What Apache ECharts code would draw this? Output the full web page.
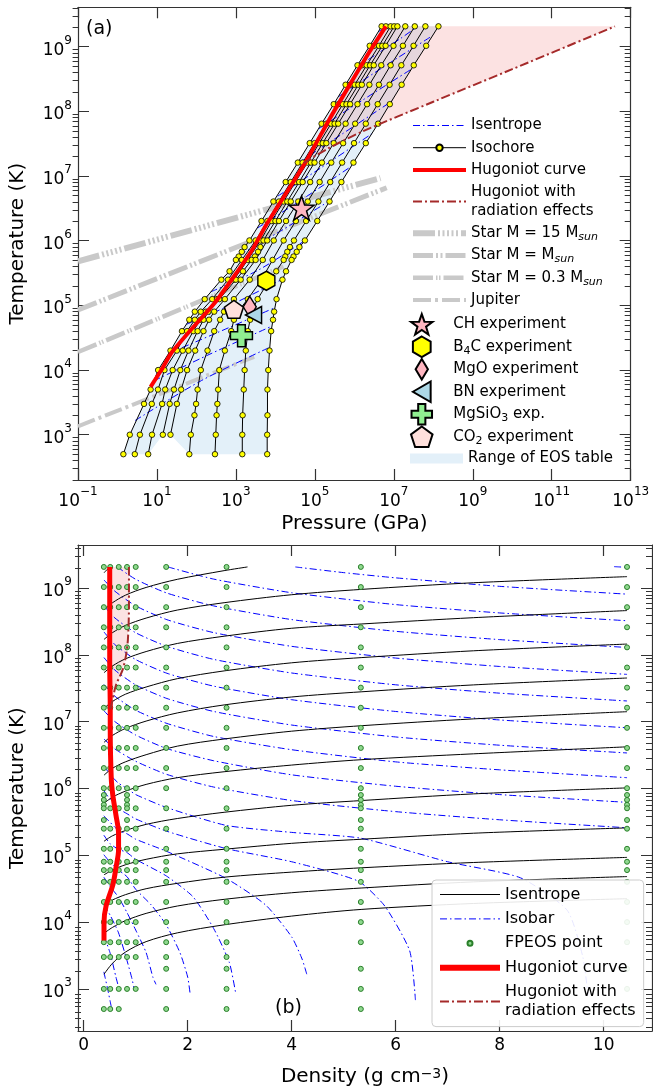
<!DOCTYPE html>
<html><head><meta charset="utf-8">
<script src="https://cdn.jsdelivr.net/npm/echarts@6/dist/echarts.min.js"></script>
<style>html,body{margin:0;padding:0;background:#fff}#c{width:653px;height:1088px}</style>
</head><body><div id="c"></div>
<script>
// ---------------- DATA ----------------
const temps = [2.068e9, 1.034e9, 5.17e8, 2.585e8, 1.293e8, 6.46e7, 3.23e7, 1.616e7, 8.08e6, 4.04e6, 2.02e6, 1.01e6, 7.98e5, 6.74e5, 5.7e5, 5.05e5, 3.37e5, 2.5e5, 1.25e5, 8.0e4, 6.0e4, 4.0e4, 2.0e4, 1.0e4, 5.0e3, 3.0e3, 2.0e3, 1.0e3, 5.0e2];
const densities = [0.387, 0.51, 0.674, 0.833, 1.0, 1.586, 2.747, 5.33, 10.45];
// isochore pressures (GPa) at each temperature of `temps`; null = no FPEOS point
const pRho0387 = [4.9e6, 2.45e6, 1.2e6, 6.0e5, 3.0e5, 1.48e5, 7.4e4, 3.7e4, 1.82e4, 8.9e3, 4.45e3, 2.2e3, 1660, 1410, 1175, 1000, 690, 427, 162, 91, 66, 43, 22, 10.7, 6.9, 4.7, null, 2.05, 1.41];
const pRho051 = [6.3e6, 3.16e6, 1.55e6, 7.8e5, 3.9e5, 1.95e5, 9.8e4, 4.9e4, 2.45e4, 1.23e4, 6.3e3, 3.16e3, null, null, null, 1410, null, 630, 251, 129, 91, 58, 32, 15.5, 10.6, 7.4, null, 3.7, 2.75];
const pRho067 = [8.3e6, 4.2e6, 2.05e6, 1.02e6, 5.1e5, 2.57e5, 1.29e5, 6.5e4, 3.2e4, 1.62e4, 8.1e3, 4.2e3, null, null, null, 2000, null, 890, 331, 174, 126, 83, 45, 25, 16.2, 13.5, null, 7.5, 6.0];
const pRho083 = [1.02e7, 5.1e6, 2.5e6, 1.26e6, 6.3e5, 3.16e5, 1.58e5, 7.9e4, 4.0e4, 2.0e4, 1.0e4, 5.0e3, 4170, 3630, 3020, 2510, 1510, 1000, 380, 200, 151, 107, 63, 39, 27, 21, null, 14.1, null];
const pRho100 = [1.23e7, 6.2e6, 3.1e6, 1.55e6, 7.8e5, 3.9e5, 1.95e5, 9.8e4, 4.9e4, 2.45e4, 1.23e4, 6.2e3, null, null, null, 3160, null, 1320, 525, 282, 209, 151, 93, 58, 41, 32, null, 22, null];
const pRho159 = [1.95e7, 9.8e6, 4.8e6, 2.4e6, 1.2e6, 6.0e5, 3.0e5, 1.51e5, 7.6e4, 3.8e4, 1.86e4, 9.1e3, null, null, null, 4790, null, 2240, 890, 500, 398, 282, 191, 129, 107, 98, 89, 72, 66];
const pRho275 = [3.4e7, 1.7e7, 8.3e6, 4.2e6, 2.1e6, 1.05e6, 5.2e5, 2.6e5, 1.32e5, 6.6e4, 3.3e4, 1.62e4, null, null, null, 8500, null, 4470, 2000, 1120, 890, 760, 525, 380, 355, 339, 324, 309, 295];
const pRho533 = [6.3e7, 3.16e7, 1.55e7, 7.8e6, 3.9e6, 1.95e6, 9.8e5, 4.9e5, 2.45e5, 1.23e5, 6.0e4, 2.95e4, 2.34e4, 2.0e4, 1.78e4, 1.62e4, 1.05e4, 7100, 3550, 2510, 2290, 2000, 1780, 1660, 1580, null, 1480, 1450, 1450];
const pRho1045 = [1.35e8, 6.6e7, 3.2e7, 1.58e7, 7.9e6, 4.0e6, 1.95e6, 9.5e5, 4.7e5, 2.35e5, 1.15e5, 5.6e4, 4.07e4, 3.47e4, 2.88e4, 2.57e4, 1.86e4, 1.51e4, 1.07e4, 9300, 8700, 7800, 7100, 6600, 6300, null, 6300, 6200, 6200];

// Hugoniot, panel (a): pressure (GPa) / temperature (K)
const hugA_P = [6.9, 12.9, 22.9, 72, 282, 890, 2570, 6200, 5.6e4, 2.4e5, 7.6e5, 2.4e6, 6.3e6];
const hugA_T = [5500, 1.0e4, 1.82e4, 4.17e4, 1.07e5, 2.8e5, 7.2e5, 1.86e6, 1.58e7, 7.8e7, 2.57e8, 8.3e8, 2.068e9];
const radA_P = [5.1e4, 2.0e5, 1.62e6, 1.0e8, 1.0e10, 4.0e12];
const radA_T = [1.58e7, 2.6e7, 4.9e7, 1.41e8, 4.5e8, 2.068e9];
// Hugoniot, panel (b): density / temperature
const hugB_rho = [0.39, 0.39, 0.43, 0.56, 0.62, 0.67, 0.67, 0.62, 0.56, 0.53, 0.51, 0.51, 0.50, 0.50];
const hugB_T = [5300, 1.0e4, 1.74e4, 3.6e4, 6.5e4, 1.2e5, 2.14e5, 4.0e5, 7.9e5, 1.4e6, 7.8e6, 1.55e7, 7.6e7, 2.068e9];
const radB_rho = [0.51, 0.53, 0.62, 0.75, 0.81, 0.85, 0.87, 0.87];
const radB_T = [1.55e7, 1.74e7, 3.5e7, 6.0e7, 9.5e7, 1.7e8, 5.4e8, 2.068e9];

// stellar / planetary profiles (GPa, K)
const star15_P = [0.1, 4.6e6];  const star15_T = [4.8e5, 9.3e6];
const star1_P = [0.1, 6.6e6];   const star1_T = [8.5e4, 6.6e6];
const star03_P = [0.1, 1.6e4];  const star03_T = [1.9e4, 4.0e5];
const jup_P = [0.1, 2900];      const jup_T = [1350, 1.6e4];

// experiments (GPa, K)
const expCH = [4.6e4, 3.2e6];
const expB4C = [5.9e3, 2.4e5];
const expMgO = [2.24e3, 9.5e4];
const expBN = [2.8e3, 7.1e4];
const expMgSiO3 = [1.38e3, 3.4e4];
const expCO2 = [890, 8.7e4];

// isentropes, panel (a): [P (GPa), T (K)] pairs
const isenA_1 = [[4.0e6, 1.7e9], [6.8e6, 2.068e9]];
const isenA_2 = [[1.12e6, 4.8e8], [1.5e7, 1.35e9], [4.0e7, 2.068e9]];
const isenA_3 = [[4.0e5, 1.7e8], [5.0e6, 4.7e8], [9.5e7, 1.48e9]];
const isenA_4 = [[1.26e5, 5.4e7], [1.58e6, 1.48e8], [2.95e7, 4.6e8]];
const isenA_5 = [[3.7e4, 1.58e7], [4.7e5, 4.4e7], [9.1e6, 1.45e8]];
const isenA_6 = [[1.15e4, 4.9e6], [1.45e5, 1.35e7], [2.75e6, 4.5e7]];
const isenA_7 = [[3.55e3, 1.58e6], [4.6e4, 4.3e6], [8.3e5, 1.41e7]];
const isenA_8 = [[1230, 6.0e5], [1.45e4, 1.45e6], [2.45e5, 4.2e6]];
const isenA_9 = [[230, 1.62e5], [3800, 3.55e5], [5.75e4, 1.02e6]];
const isenA_10 = [[56, 5.1e4], [830, 1.05e5], [1.55e4, 2.57e5]];
const isenA_11 = [[20, 1.82e4], [340, 3.8e4], [1.0e4, 9.3e4]];
const isenA_12 = [[8.3, 6.8e3], [209, 1.74e4], [8300, 4.8e4]];
const isenA_13 = [[2.8, 1.66e3], [135, 6.9e3], [7100, 2.24e4]];

// isentropes, panel (b): temperatures (K) at densities isenDens
const isenDens = [0.39, 0.55, 0.8, 1.2, 1.8, 2.7, 4.0, 5.35, 7.5, 10.45];
const isenDens_1 = [0.39, 0.45, 0.53];
const isenT_1 = [1.7e9, 1.88e9, 2.068e9];
const isenDens_2 = [0.39, 0.55, 0.8, 1.2, 1.8, 2.7, 3.15];
const isenT_2 = [4.8e8, 6.0e8, 7.8e8, 1.02e9, 1.35e9, 1.82e9, 2.068e9];
const isenT_3 = [1.70e8, 2.14e8, 2.75e8, 3.55e8, 4.68e8, 6.03e8, 7.94e8, 9.55e8, 1.2e9, 1.48e9];
const isenT_4 = [5.4e7, 6.8e7, 8.7e7, 1.12e8, 1.48e8, 1.9e8, 2.5e8, 2.9e8, 3.6e8, 4.6e8];
const isenT_5 = [1.58e7, 2.0e7, 2.57e7, 3.3e7, 4.4e7, 5.75e7, 7.6e7, 9.1e7, 1.15e8, 1.45e8];
const isenT_6 = [4.9e6, 6.2e6, 7.9e6, 1.02e7, 1.35e7, 1.78e7, 2.34e7, 2.8e7, 3.55e7, 4.5e7];
const isenT_7 = [1.58e6, 2.0e6, 2.5e6, 3.2e6, 4.3e6, 5.5e6, 7.2e6, 8.7e6, 1.1e7, 1.41e7];
const isenT_8 = [6.0e5, 7.4e5, 9.1e5, 1.15e6, 1.45e6, 1.78e6, 2.24e6, 2.7e6, 3.3e6, 4.2e6];
const isenT_9 = [1.62e5, 1.95e5, 2.34e5, 2.9e5, 3.55e5, 4.4e5, 5.6e5, 6.6e5, 8.3e5, 1.02e6];
const isenT_10 = [5.1e4, 6.0e4, 7.2e4, 8.7e4, 1.05e5, 1.23e5, 1.51e5, 1.74e5, 2.14e5, 2.57e5];
const isenT_11 = [1.82e4, 2.14e4, 2.57e4, 3.16e4, 3.8e4, 4.7e4, 5.6e4, 6.5e4, 7.8e4, 9.3e4];
const isenT_12 = [6.8e3, 8.3e3, 1.05e4, 1.35e4, 1.74e4, 2.19e4, 2.75e4, 3.24e4, 4.0e4, 4.8e4];
const isenT_13 = [1.66e3, 2.4e3, 3.55e3, 5.1e3, 6.9e3, 9.1e3, 1.23e4, 1.55e4, 1.9e4, 2.24e4];

// isobars, panel (b): [density, T (K)] pairs, highest pressure first
const isobar_1 = [[10.2, 2.09e9], [10.45, 2.04e9]];
const isobar_2 = [[4.07, 2.068e9], [5, 1.7e9], [6, 1.42e9], [8, 1.06e9], [10.45, 8.1e8]];
const isobar_3 = [[1.62, 2.068e9], [2.5, 1.36e9], [4, 8.5e8], [6, 5.65e8], [8, 4.24e8], [10.45, 3.24e8]];
const isobar_4 = [[0.645, 2.068e9], [1, 1.35e9], [1.6, 8.4e8], [2.5, 5.4e8], [4, 3.37e8], [6, 2.25e8], [8, 1.69e8], [10.45, 1.29e8]];
const isobar_5 = [[0.39, 1.32e9], [0.6, 8.95e8], [1, 5.4e8], [1.6, 3.36e8], [2.5, 2.15e8], [4, 1.34e8], [6, 8.95e7], [8, 6.7e7], [10.45, 5.1e7]];
const isobar_6 = [[0.39, 5.4e8], [0.6, 3.56e8], [1, 2.14e8], [1.6, 1.34e8], [2.5, 8.55e7], [4, 5.35e7], [6, 3.56e7], [8, 2.67e7], [10.45, 2.04e7]];
const isobar_7 = [[0.39, 2.2e8], [0.6, 1.42e8], [1, 8.5e7], [1.6, 5.3e7], [2.5, 3.4e7], [4, 2.13e7], [6, 1.42e7], [8, 1.06e7], [10.45, 8.1e6]];
const isobar_8 = [[0.39, 9.1e7], [0.6, 5.9e7], [1, 3.55e7], [1.6, 2.22e7], [2.5, 1.42e7], [4, 8.9e6], [6, 5.9e6], [8, 4.44e6], [10.45, 3.4e6]];
const isobar_9 = [[0.39, 3.6e7], [0.6, 2.4e7], [1, 1.48e7], [1.6, 9.4e6], [2.5, 6.0e6], [4, 3.8e6], [6, 2.5e6], [8, 1.9e6], [10.45, 1.45e6]];
const isobar_10 = [[0.39, 1.45e7], [0.6, 1.0e7], [1, 6.3e6], [1.6, 3.95e6], [2.5, 2.6e6], [4, 1.6e6], [6, 1.08e6], [8, 8.1e5], [10.45, 6.2e5]];
const isobar_11 = [[0.39, 5.5e6], [0.6, 3.9e6], [1, 2.55e6], [1.6, 1.62e6], [2.5, 1.05e6], [4, 6.6e5], [6, 4.5e5], [8, 3.4e5], [10.45, 2.58e5]];
const isobar_12 = [[0.387, 2.2e6], [0.51, 1.6e6], [0.67, 1.2e6], [0.83, 1.0e6], [1.0, 8.1e5], [1.59, 5.2e5], [2.74, 2.8e5], [4.0, 2.2e5], [5.33, 1.8e5], [7.0, 8e4], [8.4, 4.6e4], [9.3, 1.5e4], [9.6, 3e3], [9.7, 800]];
const isobar_13 = [[0.387, 9.3e5], [0.51, 6.8e5], [0.67, 5.0e5], [0.83, 4.2e5], [1.0, 3.5e5], [1.59, 2.3e5], [2.74, 1.26e5], [4.0, 8e4], [5.28, 4.1e4], [5.79, 1.74e4], [6.27, 3.7e3], [6.38, 680]];
const isobar_14 = [[0.387, 3.9e5], [0.51, 3.1e5], [0.67, 2.35e5], [0.83, 2.1e5], [1.0, 1.74e5], [1.59, 1.15e5], [2.74, 4.5e4], [3.5, 1.8e4], [4.0, 6e3], [4.2, 2.8e3], [4.29, 1660]];
const isobar_15 = [[0.387, 2.0e5], [0.51, 1.48e5], [0.67, 1.23e5], [0.83, 1.1e5], [1.0, 8.7e4], [1.59, 4.9e4], [2.1, 2.4e4], [2.5, 8e3], [2.8, 2.5e3], [2.92, 890]];
const isobar_16 = [[0.387, 1.02e5], [0.51, 7.8e4], [0.67, 6.0e4], [0.83, 4.8e4], [1.0, 3.1e4], [1.3, 1.8e4], [1.59, 9e3], [1.85, 3.5e3], [2.0, 1.5e3], [2.05, 800]];
const isobar_17 = [[0.387, 4.7e4], [0.51, 3.4e4], [0.67, 2.35e4], [0.83, 1.4e4], [1.0, 7.6e3], [1.2, 3.5e3], [1.33, 1.5e3], [1.39, 1170]];
const isobar_18 = [[0.387, 1.82e4], [0.51, 1.26e4], [0.67, 6.9e3], [0.83, 2.7e3], [0.93, 1.4e3], [0.97, 1000]];
const isobar_19 = [[0.387, 6.3e3], [0.51, 3.4e3], [0.62, 1.5e3], [0.69, 930]];
const isobar_20 = [[0.387, 1.8e3], [0.46, 1.0e3], [0.53, 540]];

// tick labels
const xTicksA = [-1, 1, 3, 5, 7, 9, 11, 13];       // log10 pressure
const yTicksA = [3, 4, 5, 6, 7, 8, 9];             // log10 temperature
const xTicksB = [0, 2, 4, 6, 8, 10];               // density
const yTicksB = [3, 4, 5, 6, 7, 8, 9];

// ---------------- BUILD ----------------
const F = 'DejaVu Sans';
const AX = '#333';
const BLUE = '#0000ff';
const lg = Math.log10;
const isochoreP = [pRho0387, pRho051, pRho067, pRho083, pRho100, pRho159, pRho275, pRho533, pRho1045];
const isenA = [isenA_1, isenA_2, isenA_3, isenA_4, isenA_5, isenA_6, isenA_7, isenA_8, isenA_9, isenA_10, isenA_11, isenA_12, isenA_13];
const isenB = [[isenDens_1, isenT_1], [isenDens_2, isenT_2], [isenDens, isenT_3], [isenDens, isenT_4], [isenDens, isenT_5], [isenDens, isenT_6], [isenDens, isenT_7], [isenDens, isenT_8], [isenDens, isenT_9], [isenDens, isenT_10], [isenDens, isenT_11], [isenDens, isenT_12], [isenDens, isenT_13]];
const isobars = [isobar_1, isobar_2, isobar_3, isobar_4, isobar_5, isobar_6, isobar_7, isobar_8, isobar_9, isobar_10, isobar_11, isobar_12, isobar_13, isobar_14, isobar_15, isobar_16, isobar_17, isobar_18, isobar_19, isobar_20];

const A = (p, t) => [lg(p), lg(t)];
const B = (r, t) => [r, lg(t)];
const zipA = (ps, ts) => ps.map((p, i) => A(p, ts[i]));
const zipB = (rs, ts) => rs.map((r, i) => B(r, ts[i]));

function powLabel(v) {
  const e = Math.round(v);
  return '{b|10}{e|' + (e < 0 ? '\u2212' + (-e) : e) + '}';
}
const RICH = {
  b: {fontSize: 17, fontFamily: F, color: '#000', lineHeight: 24, verticalAlign: 'bottom'},
  e: {fontSize: 12, fontFamily: F, color: '#000', lineHeight: 12, verticalAlign: 'top'}
};
function minorLogs(lo, hi) {
  const out = [];
  for (let n = Math.floor(lo) - 1; n <= Math.ceil(hi); n++)
    for (let k = 2; k <= 9; k++) { const v = n + lg(k); if (v > lo && v < hi) out.push(v); }
  return out;
}
const lineAx = {show: true, onZero: false, lineStyle: {color: AX, width: 1.2}};
const NAME_STYLE = {fontSize: 20, fontFamily: F, color: '#000', rich: {e: {fontSize: 14, fontFamily: F, color: '#000', verticalAlign: 'top', lineHeight: 12}}};
function xAx(grid, pos, min, max, ticks, labelFmt, name, nameGap) {
  return {
    gridIndex: grid, type: 'value', position: pos, min: min, max: max,
    axisLine: lineAx, splitLine: {show: false},
    axisTick: {inside: true, length: 11, lineStyle: {color: AX, width: 1.2}, customValues: ticks},
    axisLabel: labelFmt ? {customValues: ticks, formatter: labelFmt, rich: RICH, margin: 6, fontSize: 17, fontFamily: F, color: '#000'} : {show: false},
    name: name || '', nameLocation: 'middle', nameGap: nameGap || 30, nameTextStyle: NAME_STYLE
  };
}
function yAx(grid, pos, min, max, ticks, labelFmt, name, nameGap, minor) {
  return {
    gridIndex: grid, type: 'value', position: pos, min: min, max: max,
    axisLine: minor ? {show: false, onZero: false} : lineAx, splitLine: {show: false},
    axisTick: {inside: true, length: minor ? 6 : 11, lineStyle: {color: AX, width: 1}, customValues: ticks},
    axisLabel: labelFmt ? {customValues: ticks, formatter: labelFmt, rich: RICH, margin: 6} : {show: false},
    name: name || '', nameLocation: 'middle', nameGap: nameGap || 30, nameTextStyle: NAME_STYLE
  };
}
const hiddenX = g => ({gridIndex: g, type: 'value', min: 0, max: 1, show: false});
const yMinA = 2.30, yMaxA = 9.61, yMinB = 2.37, yMaxB = 9.644;
const XA = 0, YA = 0, XB = 2, YB = 2;

const series = [];
// ---- panel (a) ----
const eosPoly = [];
const lowIdx = temps.length - 1;
for (let i = lowIdx; i >= 0; i--) if (pRho0387[i] != null) eosPoly.push(A(pRho0387[i], temps[i]));
for (let d = 1; d < isochoreP.length; d++) eosPoly.push(A(isochoreP[d][0], temps[0]));
for (let i = 0; i <= lowIdx; i++) if (pRho1045[i] != null) eosPoly.push(A(pRho1045[i], temps[i]));
for (let d = isochoreP.length - 2; d >= 1; d--) {
  const arr = isochoreP[d];
  let i = lowIdx; while (arr[i] == null) i--;
  eosPoly.push(A(arr[i], temps[i]));
}
function polySeries(name, poly, xi, yi, fill, z) {
  return {
    name: name, type: 'custom', xAxisIndex: xi, yAxisIndex: yi, z: z, silent: true, clip: true,
    itemStyle: {color: fill},
    data: [poly[0]],
    renderItem: (params, api) => ({type: 'polygon', shape: {points: poly.map(p => api.coord(p))}, style: {fill: fill, stroke: null}})
  };
}
series.push(polySeries('Range of EOS table', eosPoly, XA, YA, '#e3f0f9', 1));
const pinkA = zipA(radA_P, radA_T);
for (let i = hugA_T.length - 1; i >= 0; i--) if (hugA_T[i] >= radA_T[0]) pinkA.push(A(hugA_P[i], hugA_T[i]));
series.push(polySeries('pinkA', pinkA, XA, YA, 'rgba(240,110,110,0.2)', 1));

const grayC = '#c9c9c9';
const starDefs = [
  ['Star M = 15 Msun', star15_P, star15_T, 6, [22, 3, 2, 2.5, 2, 2.5, 2, 2.5, 2, 2.5, 2, 3]],
  ['Star M = Msun', star1_P, star1_T, 5, [20, 3, 2, 2.5, 2, 3]],
  ['Star M = 0.3 Msun', star03_P, star03_T, 4.5, [20, 3, 1.5, 1.5, 1.5, 3]],
  ['Jupiter', jup_P, jup_T, 4, [18, 4, 3, 4]]
];
starDefs.forEach(s => series.push({
  name: s[0], type: 'line', xAxisIndex: XA, yAxisIndex: YA, z: 2, symbol: 'none', silent: true,
  data: zipA(s[1], s[2]), lineStyle: {color: grayC, width: s[3], type: s[4], cap: 'butt'}, itemStyle: {color: grayC}
}));
isenA.forEach(arr => series.push({
  name: 'Isentrope', type: 'line', xAxisIndex: XA, yAxisIndex: YA, z: 3, symbol: 'none', silent: true, smooth: 0.3,
  data: arr.map(p => A(p[0], p[1])), lineStyle: {color: BLUE, width: 1, type: [7, 3, 1.5, 3]}, itemStyle: {color: BLUE}
}));
isochoreP.forEach(arr => {
  const d = [];
  temps.forEach((t, i) => { if (arr[i] != null) d.push(A(arr[i], t)); });
  series.push({
    name: 'Isochore', type: 'line', xAxisIndex: XA, yAxisIndex: YA, z: 4, silent: true,
    data: d, symbol: 'circle', symbolSize: 5.5,
    lineStyle: {color: '#000', width: 1},
    itemStyle: {color: '#ffff00', borderColor: '#000', borderWidth: 0.8}
  });
});
series.push({name: 'Hugoniot curve', type: 'line', xAxisIndex: XA, yAxisIndex: YA, z: 5, symbol: 'none', silent: true,
  data: zipA(hugA_P, hugA_T), lineStyle: {color: '#ff0000', width: 4}, itemStyle: {color: '#ff0000'}, smooth: 0.2});
series.push({name: 'Hugoniot with radiation effects', type: 'line', xAxisIndex: XA, yAxisIndex: YA, z: 5, symbol: 'none', silent: true,
  data: zipA(radA_P, radA_T), lineStyle: {color: '#a52a2a', width: 2, type: [9, 3, 2, 3]}, itemStyle: {color: '#a52a2a'}, smooth: 0.3});
const SYM = {
  star: 'path://M0,-10 L2.35,-3.24 9.51,-3.09 3.8,1.24 5.88,8.09 0,4 -5.88,8.09 -3.8,1.24 -9.51,-3.09 -2.35,-3.24 Z',
  hex: 'path://M0,-10 L8.66,-5 8.66,5 0,10 -8.66,5 -8.66,-5 Z',
  dia: 'path://M0,-10 L6,0 0,10 -6,0 Z',
  tri: 'path://M-10,0 L5,-8.66 5,8.66 Z',
  plus: 'path://M-3.5,-10 L3.5,-10 3.5,-3.5 10,-3.5 10,3.5 3.5,3.5 3.5,10 -3.5,10 -3.5,3.5 -10,3.5 -10,-3.5 -3.5,-3.5 Z',
  pent: 'path://M0,-10 L9.51,-3.09 5.88,8.09 -5.88,8.09 -9.51,-3.09 Z'
};
const expDefs = [
  ['CH experiment', expCH, SYM.star, [25, 24], '#ffb6c1'],
  ['B4C experiment', expB4C, SYM.hex, [17, 19], '#ffff00'],
  ['MgO experiment', expMgO, SYM.dia, [13, 21], '#ffb6c1'],
  ['BN experiment', expBN, SYM.tri, [16, 17], '#add8e6'],
  ['MgSiO3 exp.', expMgSiO3, SYM.plus, [22, 22], '#90ee90'],
  ['CO2 experiment', expCO2, SYM.pent, [19, 18], '#ffe0dc']
];
expDefs.forEach(e => series.push({
  name: e[0], type: 'scatter', xAxisIndex: XA, yAxisIndex: YA, z: 6, silent: true,
  data: [A(e[1][0], e[1][1])], symbol: e[2], symbolSize: e[3],
  itemStyle: {color: e[4], borderColor: '#000', borderWidth: 1.5, opacity: 1}
}));

// ---- panel (b) ----
const pinkB = zipB(radB_rho, radB_T);
for (let i = hugB_T.length - 1; i >= 0; i--) if (hugB_T[i] >= radB_T[0]) pinkB.push(B(hugB_rho[i], hugB_T[i]));
series.push(polySeries('pinkB', pinkB, XB, YB, 'rgba(240,110,110,0.2)', 1));
isobars.forEach(arr => series.push({
  name: 'Isobar', type: 'line', xAxisIndex: XB, yAxisIndex: YB, z: 2, symbol: 'none', silent: true, smooth: 0.2,
  data: arr.map(p => B(p[0], p[1])), lineStyle: {color: BLUE, width: 1, type: [7, 3, 1.5, 3]}, itemStyle: {color: BLUE}
}));
isenB.forEach(pr => series.push({
  name: 'Isentrope\u200b', type: 'line', xAxisIndex: XB, yAxisIndex: YB, z: 2, symbol: 'none', silent: true, smooth: 0.3,
  data: zipB(pr[0], pr[1]), lineStyle: {color: '#000', width: 1}, itemStyle: {color: '#000'}
}));
const fpeos = [];
isochoreP.forEach((arr, d) => temps.forEach((t, i) => { if (arr[i] != null) fpeos.push(B(densities[d], t)); }));
series.push({name: 'FPEOS point', type: 'scatter', xAxisIndex: XB, yAxisIndex: YB, z: 3, silent: true,
  data: fpeos, symbol: 'circle', symbolSize: 5,
  itemStyle: {color: '#8fd88f', borderColor: '#2a7f2a', borderWidth: 1, opacity: 1}});
series.push({name: 'Hugoniot curve\u200b', type: 'line', xAxisIndex: XB, yAxisIndex: YB, z: 5, symbol: 'none', silent: true,
  data: zipB(hugB_rho, hugB_T), lineStyle: {color: '#ff0000', width: 5}, itemStyle: {color: '#ff0000'}, smooth: 0.3});
series.push({name: 'Hugoniot with radiation effects\u200b', type: 'line', xAxisIndex: XB, yAxisIndex: YB, z: 5, symbol: 'none', silent: true,
  data: zipB(radB_rho, radB_T), lineStyle: {color: '#a52a2a', width: 2, type: [9, 3, 2, 3]}, itemStyle: {color: '#a52a2a'}, smooth: 0.3});

// ---- legends ----
const NAMES = {
  'Hugoniot with radiation effects': 'Hugoniot with\nradiation effects',
  'Star M = 15 Msun': 'Star M = 15 M{s|sun}',
  'Star M = Msun': 'Star M = M{s|sun}',
  'Star M = 0.3 Msun': 'Star M = 0.3 M{s|sun}',
  'B4C experiment': 'B{d|4}C experiment',
  'MgSiO3 exp.': 'MgSiO{d|3} exp.',
  'CO2 experiment': 'CO{d|2} experiment'
};
const legFmt = n => { const k = n.replace('\u200b', ''); return NAMES[k] || k; };
const legRich = fs => ({
  s: {fontSize: fs - 4, fontStyle: 'italic', fontFamily: F, color: '#000', lineHeight: 10, verticalAlign: 'bottom'},
  d: {fontSize: fs - 4, fontFamily: F, color: '#000', lineHeight: 10, verticalAlign: 'bottom'}
});
const legText = (fs, lh) => ({fontSize: fs, fontFamily: F, color: '#000', lineHeight: lh, rich: legRich(fs)});
const noSym = (name, w, c, dash) => {
  const ls = {width: w};
  if (c) ls.color = c;
  if (dash) ls.type = dash;
  return {name: name, itemStyle: {opacity: 0}, lineStyle: ls};
};
const legends = [
  {data: [noSym('Isentrope', 1.2, BLUE, [7, 3, 1.5, 3]), {name: 'Isochore', lineStyle: {width: 1}}, noSym('Hugoniot curve', 4), noSym('Hugoniot with radiation effects', 2),
          noSym('Star M = 15 Msun', 6), noSym('Star M = Msun', 5), noSym('Star M = 0.3 Msun', 4.5), noSym('Jupiter', 4)],
   orient: 'vertical', left: 405, top: 111, padding: 5, itemWidth: 53, itemHeight: 8, itemGap: 3.2, selectedMode: false, formatter: legFmt, textStyle: legText(15, 19)},
  {data: ['CH experiment', 'B4C experiment', 'MgO experiment', 'BN experiment', 'MgSiO3 exp.', 'CO2 experiment'],
   orient: 'vertical', left: 405, top: 308, padding: 5, itemWidth: 53, itemHeight: 20.5, itemGap: 0, selectedMode: false, formatter: legFmt, textStyle: legText(15, 19)},
  {data: [{name: 'Range of EOS table', icon: 'rect'}],
   orient: 'vertical', left: 405, top: 444, padding: 5, itemWidth: 53, itemHeight: 10, selectedMode: false, formatter: legFmt, textStyle: legText(15, 19)},
  {data: [noSym('Isentrope\u200b', 1.2, '#000'), noSym('Isobar', 1, BLUE, [7, 3, 1.5, 3]), 'FPEOS point', noSym('Hugoniot curve\u200b', 6), noSym('Hugoniot with radiation effects\u200b', 2)],
   orient: 'vertical', left: 432, top: 880, padding: [5, 8, 6, 5], itemWidth: 60, itemHeight: 5, itemGap: 5.4, selectedMode: false, formatter: legFmt,
   textStyle: legText(16, 19), backgroundColor: 'rgba(255,255,255,0.9)', borderColor: '#cccccc', borderWidth: 1, borderRadius: 4}
];

const gA = {left: 72.6, top: 7.3, width: 558.1, height: 472.7};
const gB = {left: 75, top: 545, width: 577, height: 489};
const option = {
  animation: false,
  backgroundColor: '#fff',
  grid: [gA, gB, Object.assign({}, gA), Object.assign({}, gB)],
  xAxis: [
    xAx(0, 'bottom', -1, 13, xTicksA, powLabel, 'Pressure (GPa)', 34),
    xAx(0, 'top', -1, 13, xTicksA, null),
    xAx(1, 'bottom', -0.11, 10.93, xTicksB, v => String(v), 'Density (g cm{e|\u22123})', 36),
    xAx(1, 'top', -0.11, 10.93, xTicksB, null),
    hiddenX(2), hiddenX(3)
  ],
  yAxis: [
    yAx(0, 'left', yMinA, yMaxA, yTicksA, powLabel, 'Temperature (K)', 50),
    yAx(0, 'right', yMinA, yMaxA, yTicksA, null),
    yAx(1, 'left', yMinB, yMaxB, yTicksB, powLabel, 'Temperature (K)', 50),
    yAx(1, 'right', yMinB, yMaxB, yTicksB, null),
    yAx(2, 'left', yMinA, yMaxA, minorLogs(yMinA, yMaxA), null, '', 0, true),
    yAx(2, 'right', yMinA, yMaxA, minorLogs(yMinA, yMaxA), null, '', 0, true),
    yAx(3, 'left', yMinB, yMaxB, minorLogs(yMinB, yMaxB), null, '', 0, true),
    yAx(3, 'right', yMinB, yMaxB, minorLogs(yMinB, yMaxB), null, '', 0, true)
  ],
  legend: legends,
  graphic: [
    {type: 'text', left: 86, top: 20, style: {text: '(a)', fontSize: 19, fontFamily: F, fill: '#000'}, z: 10},
    {type: 'text', left: 275, top: 999, style: {text: '(b)', fontSize: 19, fontFamily: F, fill: '#000'}, z: 10}
  ],
  series: series
};
const chart = echarts.init(document.getElementById('c'), null, {renderer: 'canvas', width: 653, height: 1088});
chart.setOption(option);
</script></body></html>
